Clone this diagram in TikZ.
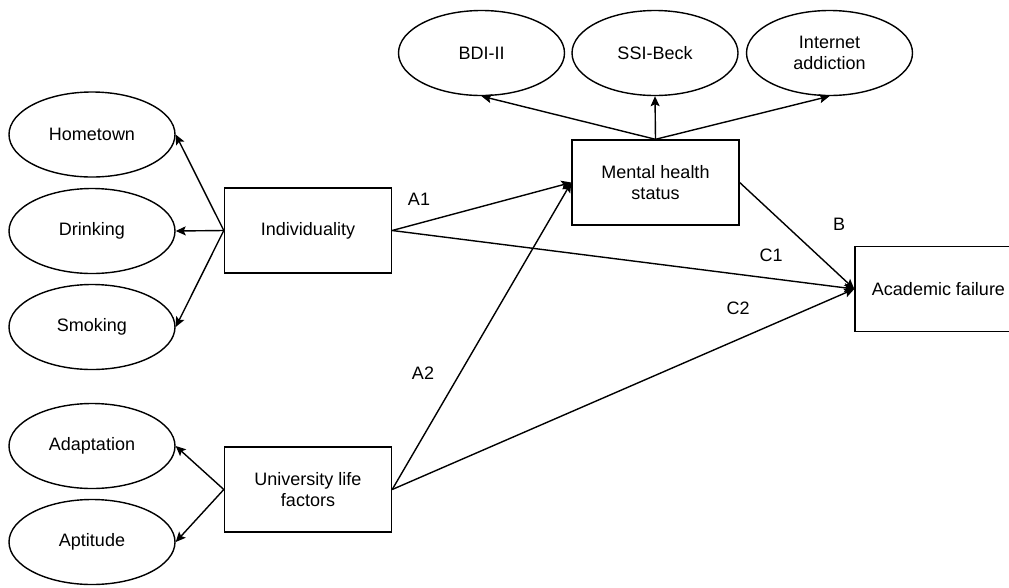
\documentclass[tikz,border=0pt]{standalone}
\usepackage{fontspec}
\setmainfont{Liberation Sans}
\usetikzlibrary{shapes.geometric,arrows.meta}
\begin{document}
\begin{tikzpicture}[x=1pt,y=-1pt,
  every node/.style={font=\fontsize{18}{21}\selectfont},
  ell/.style={draw,line width=1.4pt,ellipse,minimum width=166pt,minimum height=85pt,inner sep=0pt,align=center},
  box/.style={draw,line width=1.4pt,rectangle,minimum width=167pt,minimum height=85pt,inner sep=0pt,align=center},
  conn/.style={line width=1.4pt,-{Stealth[length=10pt,width=9pt,inset=2pt]}},
  lab/.style={inner sep=0pt}]
\clip (0,0) rectangle (1009,587);
\useasboundingbox (0,0) rectangle (1009,587);
\node[ell] (home) at (92,134.5) {Hometown};
\node[ell] (drink) at (92,231) {Drinking};
\node[ell] (smoke) at (92,327) {Smoking};
\node[ell] (adapt) at (92,446) {Adaptation};
\node[ell] (apt) at (92,542) {Aptitude};
\node[box] (ind) at (308,230.5) {Individuality};
\node[box] (uni) at (308,489.5) {University life\\factors};
\node[box] (mh) at (655.5,182.5) {Mental health\\status};
\node[box] (af) at (938.5,289) {Academic failure};
\node[ell] (bdi) at (481.5,53) {BDI-II};
\node[ell] (ssi) at (655,53) {SSI-Beck};
\node[ell] (net) at (829.5,53) {Internet\\addiction};
\draw[conn] (ind.west) -- (home.east);
\draw[conn] (ind.west) -- (drink.east);
\draw[conn] (ind.west) -- (smoke.east);
\draw[conn] (uni.west) -- (adapt.east);
\draw[conn] (uni.west) -- (apt.east);
\draw[conn] (mh.north) -- (bdi.south);
\draw[conn] (mh.north) -- (ssi.south);
\draw[conn] (mh.north) -- (net.south);
\draw[conn] (ind.east) -- (mh.west);
\draw[conn] (uni.east) -- (mh.west);
\draw[conn] (ind.east) -- (af.west);
\draw[conn] (uni.east) -- (af.west);
\draw[conn] (mh.east) -- (af.west);
\node[lab] (la1) at (419,199) {A1};
\node[lab] (la2) at (423,373) {A2};
\node[lab] (lb) at (839,224) {B};
\node[lab] (lc1) at (771,255) {C1};
\node[lab] (lc2) at (738,308) {C2};
\end{tikzpicture}
\end{document}
